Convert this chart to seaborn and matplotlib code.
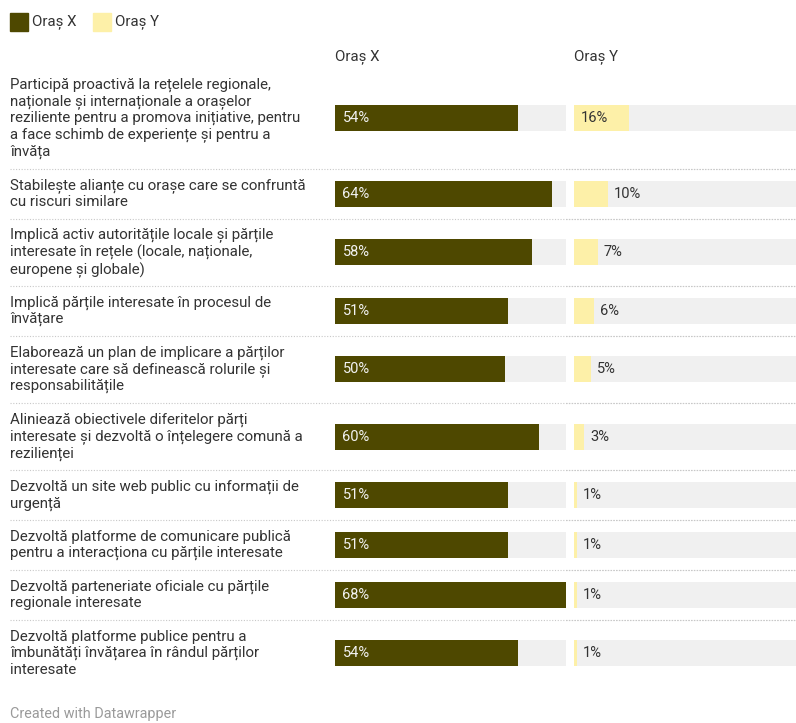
import numpy as np
import pandas as pd
import matplotlib
matplotlib.use("Agg")
import matplotlib.pyplot as plt
import matplotlib.transforms as mtransforms
import seaborn as sns

categories = [
    "Participă proactivă la rețelele regionale,\nnaționale și internaționale a orașelor\nreziliente pentru a promova inițiative, pentru\na face schimb de experiențe și pentru a\nînvăța",
    "Stabilește alianțe cu orașe care se confruntă\ncu riscuri similare",
    "Implică activ autoritățile locale și părțile\ninteresate în rețele (locale, naționale,\neuropene și globale)",
    "Implică părțile interesate în procesul de\nînvățare",
    "Elaborează un plan de implicare a părților\ninteresate care să definească rolurile și\nresponsabilitățile",
    "Aliniează obiectivele diferitelor părți\ninteresate și dezvoltă o înțelegere comună a\nrezilienței",
    "Dezvoltă un site web public cu informații de\nurgență",
    "Dezvoltă platforme de comunicare publică\npentru a interacționa cu părțile interesate",
    "Dezvoltă parteneriate oficiale cu părțile\nregionale interesate",
    "Dezvoltă platforme publice pentru a\nîmbunătăți învățarea în rândul părților\ninteresate",
]
oras_x = [54, 64, 58, 51, 50, 60, 51, 51, 68, 54]
oras_y = [16, 10, 7, 6, 5, 3, 1, 1, 1, 1]
series_names = ["Oraș X", "Oraș Y"]

COL_X = "#4e4800"
COL_Y = "#fdf0a8"
COL_BG = "#f0f0f0"
TXT = "#333333"

sns.set_theme(style="white")
plt.rcParams["font.family"] = ["Roboto", "DejaVu Sans"]

W, H = 796, 723
fig = plt.figure(figsize=(W / 100, H / 100), dpi=100)

# row layout derived from number of label lines
n_lines = np.array([c.count("\n") + 1 for c in categories])
row_h = 15 + 17.4 * n_lines
tops = 67 + np.concatenate([[0], np.cumsum(row_h)[:-1]])
centers = tops + row_h / 2
bottoms = tops + row_h

df = pd.DataFrame({"cat": categories, "x": oras_x, "y": oras_y, "pos": centers})

bar_px = 26
min_sp = np.diff(np.sort(centers)).min()
width = bar_px / min_sp

vmax = max(oras_x)
xmax_r = vmax * 222 / 231 * 0.995

def make_ax(x0, x1):
    ax = fig.add_axes([x0 / W, 0, (x1 - x0) / W, 1])
    return ax

axL = make_ax(335, 566)
axR = make_ax(574, 796)

bg = pd.DataFrame({"v": [vmax * 1.2] * len(categories), "pos": centers})
for ax, col, colr, xm in [(axL, "x", COL_X, vmax), (axR, "y", COL_Y, xmax_r)]:
    sns.barplot(data=bg, x="v", y="pos", orient="h", native_scale=True,
                color=COL_BG, width=width, ax=ax, saturation=1, linewidth=0)
    sns.barplot(data=df, x=col, y="pos", orient="h", native_scale=True,
                color=colr, width=width, ax=ax, saturation=1, linewidth=0)
    ax.set_ylim(H, 0)
    ax.set_xlim(0, xm)
    ax.set_axis_off()

FS_VAL = 10.5
# value labels
for v, c in zip(oras_x, centers):
    axL.text(2.2, c, f"{v}%", va="center", ha="left", fontsize=FS_VAL, color="#f2f2f2")
for v, c in zip(oras_y, centers):
    if v >= 12:
        axR.text(2.0, c, f"{v}%", va="center", ha="left", fontsize=FS_VAL, color=TXT)
    else:
        axR.text(v + 1.7, c, f"{v}%", va="center", ha="left", fontsize=FS_VAL, color=TXT)

# category labels and separators
trans = mtransforms.blended_transform_factory(fig.transFigure, axL.transData)
for cat, c in zip(categories, centers):
    axL.text(10 / W, c, cat, transform=trans, va="center", ha="left",
             fontsize=10.8, color=TXT, linespacing=1.19, clip_on=False)
for b in bottoms[:-1]:
    axL.plot([10 / W, 1], [b, b], transform=trans, color="#c8c8c8",
             lw=0.8, ls=(0, (1, 1.5)), clip_on=False)
    axR.plot([-8 / 222, 1], [b, b], transform=mtransforms.blended_transform_factory(axR.transAxes, axR.transData),
             color="#c8c8c8", lw=0.8, ls=(0, (1, 1.5)), clip_on=False)

# headers
fig.text(335 / W, 1 - 57 / H, series_names[0], va="center", ha="left", fontsize=10.8, color=TXT)
fig.text(574 / W, 1 - 57 / H, series_names[1], va="center", ha="left", fontsize=10.8, color=TXT)

# legend
for x0, col, name in [(10, COL_X, series_names[0]), (93, COL_Y, series_names[1])]:
    fig.patches.append(plt.Rectangle((x0 / W, 1 - 31 / H), 18 / W, 18 / H,
                                     transform=fig.transFigure, color=col, figure=fig))
    fig.text((x0 + 22) / W, 1 - 22 / H, name, va="center", ha="left", fontsize=10.8, color=TXT)

fig.text(10 / W, 1 - 714 / H, "Created with Datawrapper", va="center", ha="left",
         fontsize=10.4, color="#9a9a9a")

fig.savefig("out.png", dpi=100)
